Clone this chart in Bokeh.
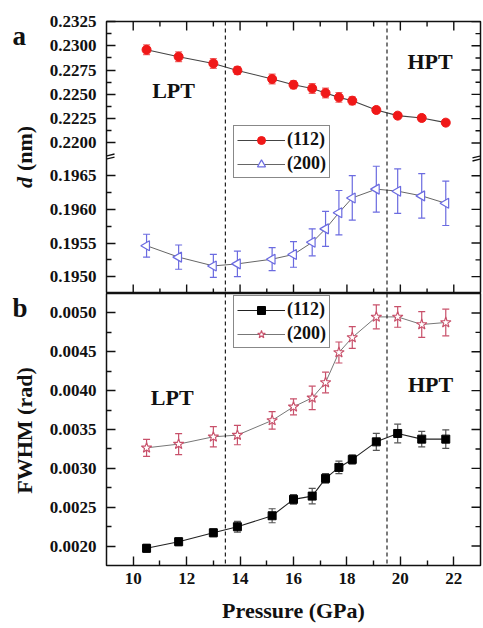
from bokeh.plotting import figure
from bokeh.models import (Range1d, FixedTicker, PrintfTickFormatter,
                          Span, Label, Legend, LegendItem, Arrow)
from bokeh.layouts import column, row
from bokeh.embed import file_html
from bokeh.resources import INLINE

# ---------------- data ----------------
pressure = [10.5, 11.7, 13.0, 13.9, 15.2, 16.0, 16.7, 17.2, 17.7, 18.2, 19.1, 19.9, 20.8, 21.7]

d112 = [0.22959, 0.22887, 0.22818, 0.22746, 0.22658, 0.22599, 0.22561, 0.22514,
        0.22469, 0.22435, 0.22339, 0.22281, 0.22257, 0.22209]
d112_err = [0.0005, 0.0005, 0.0005, 0.0004, 0.0005, 0.0004, 0.0005, 0.0005,
            0.0005, 0.0004, 0.0003, 0.0003, 0.0003, 0.0003]

d200 = [0.19546, 0.19529, 0.19516, 0.19519, 0.19526, 0.19533, 0.19551, 0.19571,
        0.19595, 0.19617, 0.19630, 0.19627, 0.19620, 0.19609]
d200_err = [0.00017, 0.00018, 0.00017, 0.00019, 0.00017, 0.00019, 0.00020, 0.00026,
            0.00033, 0.00033, 0.00034, 0.00033, 0.00033, 0.00033]

f112 = [0.001971, 0.002056, 0.002171, 0.002249, 0.002390, 0.002601, 0.002643, 0.002871,
        0.003012, 0.003115, 0.003341, 0.003449, 0.003376, 0.003376]
f112_err = [0.00005, 0.00005, 0.00005, 0.00007, 0.00009, 0.00006, 0.00010, 0.00006,
            0.00008, 0.00006, 0.00011, 0.00012, 0.00010, 0.00012]

f200 = [0.003264, 0.003312, 0.003406, 0.003428, 0.003617, 0.003792, 0.003907, 0.004105,
        0.004491, 0.004684, 0.004949, 0.004949, 0.004851, 0.004877]
f200_err = [0.00011, 0.000135, 0.00013, 0.000124, 0.000113, 0.000103, 0.00015, 0.000133,
            0.000135, 0.000139, 0.000154, 0.000133, 0.000165, 0.000171]

transitions = [13.45, 19.5]
series_labels = ["(112)", "(200)"]
panel_letters = ["a", "b"]

x_major = [10, 12, 14, 16, 18, 20, 22]
x_minor = [11, 13, 15, 17, 19, 21]
up_major = [0.2200, 0.2225, 0.2250, 0.2275, 0.2300, 0.2325]
up_minor = [0.22125, 0.22375, 0.22625, 0.22875, 0.23125]
low_major = [0.1950, 0.1955, 0.1960, 0.1965]
low_minor = [0.19525, 0.19575, 0.19625]
fw_major = [0.0020, 0.0025, 0.0030, 0.0035, 0.0040, 0.0045, 0.0050]
fw_minor = [0.00225, 0.00275, 0.00325, 0.00375, 0.00425, 0.00475]

X_RANGE = (9, 23)
UP = (0.2045, 0.2325)        # upper segment occupies top half of panel a
LOW = (0.19475, 0.19879)     # lower segment occupies bottom half of panel a
BREAK = 0.2185
FB = (0.00175, 0.00525)

FONT = "Liberation Serif"
INK = "#111111"
RED = "#f01818"
RED_ERR = "#f06a6a"
BLUE = "#6b6be0"
STAR = "#c8506a"
HALF_PI = 1.5707963

STRIP_W = 40
HA, HB = 293, 335


def up_pos(v):
    return round(UP[0] + (v - LOW[0]) * (UP[1] - UP[0]) / (LOW[1] - LOW[0]), 7)


def style_axis(ax):
    ax.axis_line_color = None
    ax.major_tick_in = 9
    ax.major_tick_out = 0
    ax.minor_tick_in = 5
    ax.minor_tick_out = 0
    ax.major_tick_line_width = 1.4
    ax.minor_tick_line_width = 1.4
    ax.major_tick_line_color = INK
    ax.minor_tick_line_color = INK
    ax.major_label_text_font = FONT
    ax.major_label_text_font_size = "17px"
    ax.major_label_text_font_style = "bold"
    ax.major_label_text_color = INK
    ax.major_label_standoff = 10
    ax.axis_label_text_font = FONT
    ax.axis_label_text_font_size = "22px"
    ax.axis_label_text_font_style = "bold"
    ax.axis_label_text_color = INK
    ax.axis_label_standoff = 8


def edge_ticks(p, xs, ys, vertical, major, range_name="default"):
    # inward tick marks on unlabeled frame edges; the outer half is clipped by the frame
    p.scatter(xs, ys, marker="dash", angle=HALF_PI if vertical else 0.0,
              size=18 if major else 10, line_color=INK, line_width=1.4,
              y_range_name=range_name)


def errorbars(p, xs, ys, es, color, range_name="default"):
    lo = [y - e for y, e in zip(ys, es)]
    hi = [y + e for y, e in zip(ys, es)]
    p.segment(x0=xs, y0=lo, x1=xs, y1=hi, line_color=color, line_width=1.2,
              y_range_name=range_name)
    p.scatter(xs, lo, marker="dash", size=7, line_color=color, line_width=1.2,
              y_range_name=range_name)
    p.scatter(xs, hi, marker="dash", size=7, line_color=color, line_width=1.2,
              y_range_name=range_name)


def txt(p, x, y, text, size="22px", style="bold", align="center", angle=0.0):
    p.add_layout(Label(x=x, y=y, text=text, text_font=FONT, text_font_size=size,
                       text_font_style=style, text_color=INK, text_align=align,
                       text_baseline="middle", angle=angle))


def make_legend(items, loc):
    return Legend(items=items, location=loc, glyph_width=48, glyph_height=20,
                  label_height=20, label_standoff=2, spacing=3, padding=3, margin=0,
                  label_text_font=FONT, label_text_font_size="18px",
                  label_text_font_style="bold", label_text_color=INK,
                  border_line_color=INK, border_line_width=1.2,
                  background_fill_alpha=1.0)


def strip(height, y_range):
    # narrow text-only figure (frame aligned with its panel) for the letter and y title
    s = figure(width=STRIP_W, height=height, x_range=Range1d(0, STRIP_W),
               y_range=y_range, x_axis_location=None, y_axis_location=None,
               output_backend="svg", toolbar_location=None, min_border=0)
    s.grid.visible = False
    s.outline_line_color = None
    s.background_fill_color = "white"
    s.border_fill_color = "white"
    return s


# ---------------- panel a ----------------
pa = figure(width=483 - STRIP_W, height=HA, x_range=Range1d(*X_RANGE), y_range=Range1d(*UP),
            x_axis_location=None, output_backend="svg", toolbar_location=None,
            min_border_left=106 - STRIP_W, min_border_right=3, min_border_top=21,
            min_border_bottom=0)
pa.extra_y_ranges = {"low": Range1d(*LOW)}
pa.grid.visible = False
pa.outline_line_color = INK
pa.outline_line_width = 1.5
pa.border_fill_color = "white"

ya_ticks = up_major + [up_pos(v) for v in low_major]
ya_minor = up_minor + [up_pos(v) for v in low_minor]

yl = pa.yaxis[0]
yl.ticker = FixedTicker(ticks=ya_ticks, minor_ticks=ya_minor)
yl.formatter = PrintfTickFormatter(format="%.4f")
yl.major_label_overrides = {up_pos(v): "%.4f" % v for v in low_major}
style_axis(yl)

edge_ticks(pa, x_major, [UP[1]] * len(x_major), True, True)
edge_ticks(pa, x_minor, [UP[1]] * len(x_minor), True, False)
edge_ticks(pa, x_major, [UP[0]] * len(x_major), True, True)
edge_ticks(pa, x_minor, [UP[0]] * len(x_minor), True, False)
edge_ticks(pa, [X_RANGE[1]] * len(ya_ticks), ya_ticks, False, True)
edge_ticks(pa, [X_RANGE[1]] * len(ya_minor), ya_minor, False, False)

for t in transitions:
    pa.add_layout(Span(location=t, dimension="height", line_color="#222222",
                       line_dash="4 3", line_width=1.2))

errorbars(pa, pressure, d112, d112_err, RED_ERR)
errorbars(pa, pressure, d200, d200_err, BLUE, "low")
la1 = pa.line(pressure, d112, line_color="#444444", line_width=1.1)
ma1 = pa.scatter(pressure, d112, marker="circle", size=9, fill_color=RED, line_color=RED)
la2 = pa.line(pressure, d200, line_color="#666666", line_width=1.0, y_range_name="low")
ma2 = pa.scatter(pressure, d200, marker="triangle", size=10, angle=HALF_PI,
                 fill_color="white", line_color=BLUE, line_width=1.2, y_range_name="low")

pa.add_layout(make_legend([LegendItem(label=series_labels[0], renderers=[la1, ma1]),
                           LegendItem(label=series_labels[1], renderers=[la2, ma2])],
                          (127, 115)), "center")

# axis break marks
for xb in X_RANGE:
    for off in (-0.00016, 0.00016):
        pa.add_layout(Arrow(x_start=xb - 0.3, y_start=BREAK + off - 0.0002,
                            x_end=xb + 0.3, y_end=BREAK + off + 0.0002,
                            end=None, line_color=INK, line_width=1.3))

txt(pa, 11.51, 0.225397, "LPT")
txt(pa, 21.11, 0.228331, "HPT")

sa = strip(HA, pa.y_range)
txt(sa, 12, 0.231007, panel_letters[0], size="27px", align="left")
txt(sa, 24, 0.215926, "d", style="bold italic", angle=HALF_PI)
txt(sa, 24, 0.219426, "(nm)", angle=HALF_PI)

# ---------------- panel b ----------------
pb = figure(width=483 - STRIP_W, height=HB, x_range=pa.x_range, y_range=Range1d(*FB),
            output_backend="svg", toolbar_location=None,
            min_border_left=106 - STRIP_W, min_border_right=3, min_border_top=0,
            min_border_bottom=63)
pb.grid.visible = False
pb.outline_line_color = INK
pb.outline_line_width = 1.5
pb.border_fill_color = "white"

yb = pb.yaxis[0]
yb.ticker = FixedTicker(ticks=fw_major, minor_ticks=fw_minor)
yb.formatter = PrintfTickFormatter(format="%.4f")
style_axis(yb)

xb_ax = pb.xaxis[0]
xb_ax.ticker = FixedTicker(ticks=x_major, minor_ticks=x_minor)
style_axis(xb_ax)
xb_ax.major_label_standoff = 7
xb_ax.axis_label = "Pressure (GPa)"
xb_ax.axis_label_standoff = 11

edge_ticks(pb, [X_RANGE[1]] * len(fw_major), fw_major, False, True)
edge_ticks(pb, [X_RANGE[1]] * len(fw_minor), fw_minor, False, False)

for t in transitions:
    pb.add_layout(Span(location=t, dimension="height", line_color="#222222",
                       line_dash="4 3", line_width=1.2))

errorbars(pb, pressure, f112, f112_err, "#555555")
errorbars(pb, pressure, f200, f200_err, STAR)
lb1 = pb.line(pressure, f112, line_color="#222222", line_width=1.1)
mb1 = pb.scatter(pressure, f112, marker="square", size=8, fill_color="black", line_color="black")
lb2 = pb.line(pressure, f200, line_color="#777777", line_width=1.0)
mb2 = pb.scatter(pressure, f200, marker="star", size=11, fill_color="white",
                 line_color=STAR, line_width=1.1)

pb.add_layout(make_legend([LegendItem(label=series_labels[0], renderers=[lb1, mb1]),
                           LegendItem(label=series_labels[1], renderers=[lb2, mb2])],
                          (127, 217)), "center")

txt(pb, 11.46, 0.003918, "LPT")
txt(pb, 21.13, 0.004073, "HPT")

sb = strip(HB, pb.y_range)
txt(sb, 12, 0.005057, panel_letters[1], size="27px", align="left")
txt(sb, 24, 0.003487, "FWHM (rad)", angle=HALF_PI)

layout = column(row(sa, pa, spacing=0), row(sb, pb, spacing=0), spacing=0)
open("out.html", "w").write(file_html(layout, INLINE))
